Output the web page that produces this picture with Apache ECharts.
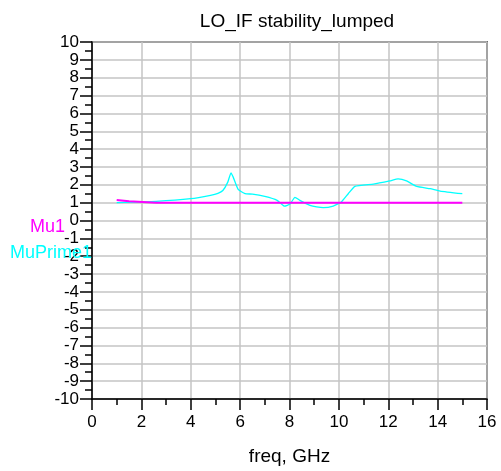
<!DOCTYPE html>
<html><head><meta charset="utf-8">
<script src="https://cdn.jsdelivr.net/npm/echarts@6/dist/echarts.min.js"></script>
<style>html,body{margin:0;padding:0;background:#fff}#c{width:501px;height:471px}</style>
</head><body><div id="c"></div>
<script>
const titleText = 'LO_IF stability_lumped';
const xName = 'freq, GHz';
const mu1Freq = [1.0, 1.5, 2.6, 15.0];
const mu1Vals = [1.15, 1.08, 1.0, 1.0];
const muPrimeFreq = [1.0, 2.6, 4.0, 4.8, 5.1, 5.3, 5.5, 5.63, 5.72, 5.92, 6.2, 6.5, 7.0, 7.5, 7.8, 8.02, 8.22, 8.42, 8.83, 9.1, 9.37, 9.77, 10.1, 10.38, 10.65, 11.4, 12.06, 12.4, 12.74, 13.15, 13.7, 14.1, 15.0];
const muPrimeVals = [1.0, 1.07, 1.22, 1.41, 1.52, 1.68, 2.15, 2.67, 2.43, 1.74, 1.5, 1.48, 1.35, 1.13, 0.8, 0.92, 1.3, 1.13, 0.85, 0.76, 0.72, 0.81, 1.04, 1.5, 1.91, 2.04, 2.22, 2.33, 2.22, 1.91, 1.78, 1.65, 1.5];
const yTicks = [-10,-9,-8,-7,-6,-5,-4,-3,-2,-1,0,1,2,3,4,5,6,7,8,9,10];

const chart = echarts.init(document.getElementById('c'));
const font = 'Liberation Sans, Arial, sans-serif';
chart.setOption({
  animation: false,
  title: {text: titleText, left: 292, textAlign: 'center', top: 7,
    textStyle: {fontFamily: font, fontSize: 19, fontWeight: 'normal', color: '#000'}},
  grid: {left: 92, top: 42, width: 395, height: 360, show: true, borderColor: '#000', borderWidth: 1.5, containLabel: false},
  xAxis: {type: 'value', min: 0, max: 16, interval: 2,
    name: xName, nameLocation: 'middle', nameGap: 48,
    nameTextStyle: {fontFamily: font, fontSize: 19, color: '#000'},
    axisLine: {show: true, onZero: false, lineStyle: {color: '#000', width: 1.5}},
    axisTick: {show: true, inside: false, length: 11, lineStyle: {color: '#000', width: 1.5}},
    minorTick: {show: true, splitNumber: 2, length: 6, lineStyle: {color: '#000', width: 1.5}},
    axisLabel: {fontFamily: font, fontSize: 17, color: '#000', margin: 15},
    splitLine: {show: true, lineStyle: {color: '#c4c4c4', width: 1.5}}},
  yAxis: {type: 'value', min: -10, max: 10, interval: 1,
    axisLine: {show: true, onZero: false, lineStyle: {color: '#000', width: 1.5}},
    axisTick: {show: true, length: 12, lineStyle: {color: '#000', width: 1.5}},
    minorTick: {show: true, splitNumber: 2, length: 7, lineStyle: {color: '#000', width: 1.5}},
    axisLabel: {fontFamily: font, fontSize: 17, color: '#000', margin: 13,
      formatter: v => yTicks.includes(v) ? String(v) : ''},
    splitLine: {show: true, lineStyle: {color: '#c4c4c4', width: 1.5}}},
  graphic: [
    {type: 'text', z: 100, zlevel: 1, left: 30, top: 218, style: {text: 'Mu1', fill: '#ff00ff', font: '18px ' + font}},
    {type: 'text', z: 100, zlevel: 1, left: 10, top: 244, style: {text: 'MuPrime1', fill: '#00ffff', font: '18px ' + font}}
  ],
  series: [
    {name: 'MuPrime1', type: 'line', showSymbol: false, smooth: 0.15,
      data: muPrimeFreq.map((f, i) => [f, muPrimeVals[i]]),
      lineStyle: {color: '#00ffff', width: 1.3}, itemStyle: {color: '#00ffff'}},
    {name: 'Mu1', type: 'line', showSymbol: false,
      data: mu1Freq.map((f, i) => [f, mu1Vals[i]]),
      lineStyle: {color: '#ff00ff', width: 2}, itemStyle: {color: '#ff00ff'}}
  ]
});
</script></body></html>
